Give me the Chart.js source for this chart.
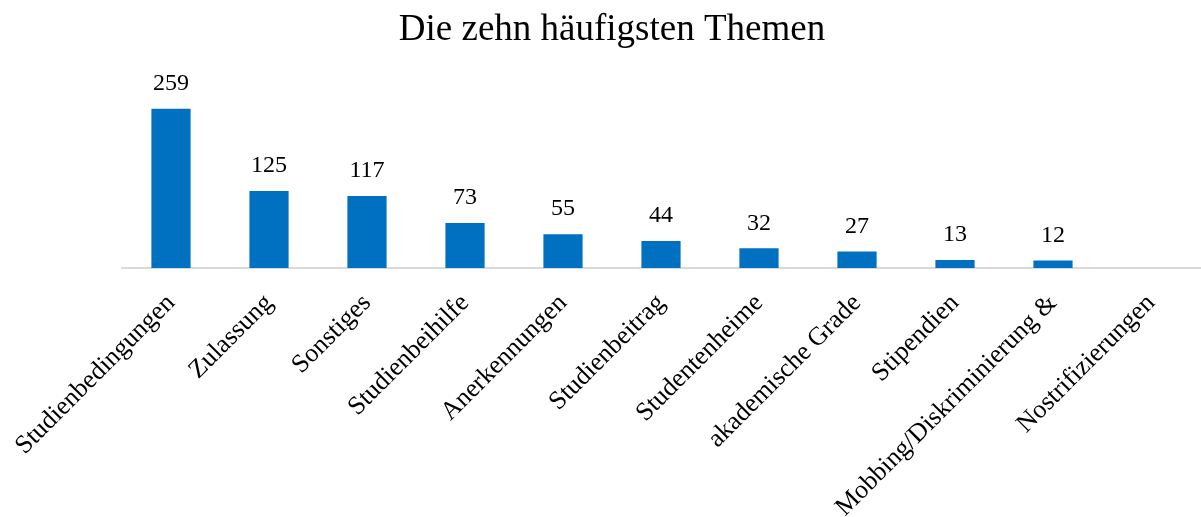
<!DOCTYPE html>
<html>
<head>
<meta charset="utf-8">
<script src="https://cdn.jsdelivr.net/npm/chart.js@4/dist/chart.umd.min.js"></script>
<style>
  body { margin: 0; background: #fff; }
</style>
</head>
<body>
<canvas id="myChart" width="1201" height="517"></canvas>
<script>
const themen = [
  "Studienbedingungen",
  "Zulassung",
  "Sonstiges",
  "Studienbeihilfe",
  "Anerkennungen",
  "Studienbeitrag",
  "Studentenheime",
  "akademische Grade",
  "Stipendien",
  "Mobbing/Diskriminierung &",
  "Nostrifizierungen",
];
const anzahl = [259, 125, 117, 73, 55, 44, 32, 27, 13, 12, null];

const serif = "'Liberation Serif', 'Times New Roman', serif";

// Zahlen über den Balken
const valueLabels = {
  id: "valueLabels",
  afterDatasetsDraw(chart) {
    const ctx = chart.ctx;
    const meta = chart.getDatasetMeta(0);
    ctx.save();
    ctx.font = "24px " + serif;
    ctx.fillStyle = "#000";
    ctx.textAlign = "center";
    ctx.textBaseline = "middle";
    meta.data.forEach((bar, i) => {
      const v = anzahl[i];
      if (v === null) return;
      ctx.fillText(String(v), bar.x, bar.y - 25);
    });
    ctx.restore();
  },
};

const ctx = document.getElementById("myChart");
new Chart(ctx, {
  type: "bar",
  data: {
    labels: themen,
    datasets: [
      {
        data: anzahl,
        backgroundColor: "#0070C0",
        barPercentage: 0.4,
        categoryPercentage: 1,
      },
    ],
  },
  options: {
    responsive: false,
    animation: false,
    layout: { padding: { left: 24, right: 1, top: 0, bottom: 0 } },
    plugins: {
      legend: { display: false },
      tooltip: { enabled: false },
      title: {
        display: true,
        text: "Die zehn häufigsten Themen",
        color: "#000",
        font: { family: serif, size: 37, weight: "normal" },
        padding: { top: 8, bottom: 31 },
      },
    },
    scales: {
      y: {
        min: 0,
        max: 300,
        grid: { display: false },
        border: { display: false },
        ticks: { display: false },
        afterFit(scale) {
          scale.width = 98;
        },
      },
      x: {
        grid: { display: false, drawTicks: false },
        border: { display: true, color: "#d9d9d9", width: 2 },
        ticks: {
          autoSkip: false,
          minRotation: 45,
          maxRotation: 45,
          padding: 20,
          labelOffset: 0,
          color: "#000",
          font: { family: serif, size: 26 },
        },
        afterFit(scale) {
          scale.height = 249;
          scale.paddingLeft = 0;
          scale.paddingRight = 0;
        },
      },
    },
  },
  plugins: [valueLabels],
});
</script>
</body>
</html>
